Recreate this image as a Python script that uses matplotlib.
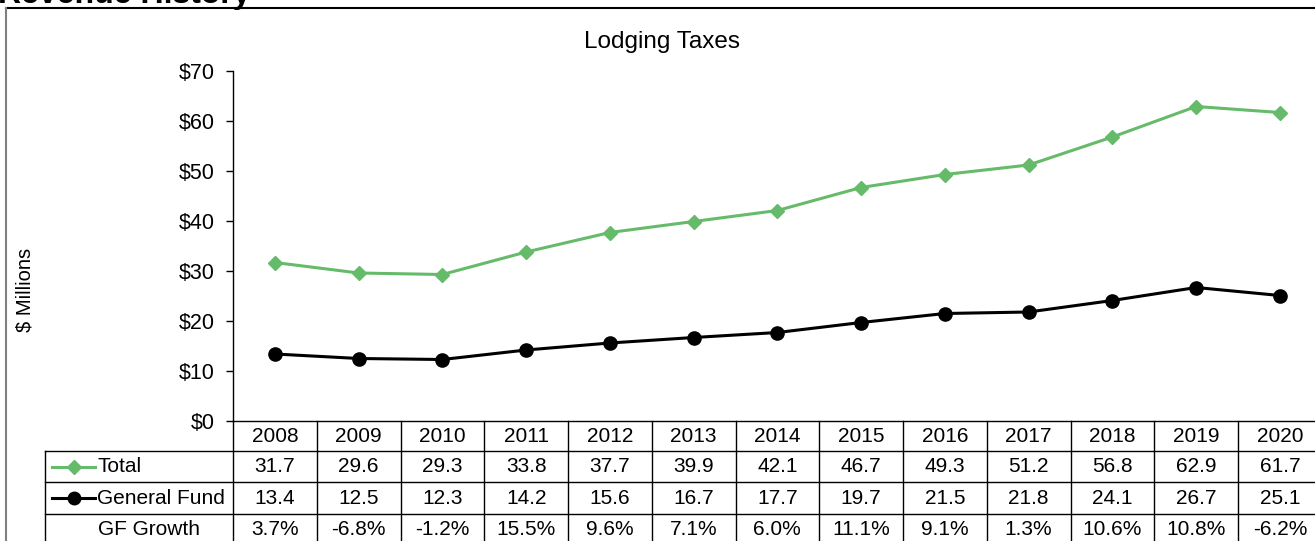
import matplotlib
matplotlib.use("Agg")
import matplotlib.pyplot as plt
from matplotlib.lines import Line2D

plt.rcParams['font.family'] = ['Liberation Sans', 'DejaVu Sans']

years = ["2008", "2009", "2010", "2011", "2012", "2013", "2014", "2015",
         "2016", "2017", "2018", "2019", "2020"]
total = [31.7, 29.6, 29.3, 33.8, 37.7, 39.9, 42.1, 46.7, 49.3, 51.2, 56.8, 62.9, 61.7]
general_fund = [13.4, 12.5, 12.3, 14.2, 15.6, 16.7, 17.7, 19.7, 21.5, 21.8, 24.1, 26.7, 25.1]
gf_growth = ["3.7%", "-6.8%", "-1.2%", "15.5%", "9.6%", "7.1%", "6.0%", "11.1%",
             "9.1%", "1.3%", "10.6%", "10.8%", "-6.2%"]
yticks = [0, 10, 20, 30, 40, 50, 60, 70]

W, H = 1315, 541
fig = plt.figure(figsize=(W / 100, H / 100), dpi=100)

GREEN = "#66BB6A"
n = len(years)
colw = 83.75
ax_left, ax_right = 233, 233 + colw * n
ax_top, ax_bot = 71, 421

ax = fig.add_axes([ax_left / W, (H - ax_bot) / H, (ax_right - ax_left) / W, (ax_bot - ax_top) / H])
x = list(range(n))
ax.plot(x, total, color=GREEN, lw=2.2, marker='D', ms=7.5, mec=GREEN, mfc=GREEN, clip_on=False)
ax.plot(x, general_fund, color='black', lw=2.2, marker='o', ms=9.5, clip_on=False)
ax.set_xlim(-0.5, n - 0.5)
ax.set_ylim(0, 70)
ax.set_yticks(yticks)
ax.set_yticklabels([f"${v}" for v in yticks], fontsize=15.5)
ax.set_xticks([])
ax.tick_params(axis='y', direction='out', length=5, width=1, pad=8)
for s in ['top', 'right']:
    ax.spines[s].set_visible(False)
ax.spines['left'].set_linewidth(1)
ax.spines['bottom'].set_linewidth(1)

fig.text(662 / W, 1 - 42 / H, "Lodging Taxes", ha='center', va='center', fontsize=17.5)
fig.text(25 / W, 1 - 290 / H, "$ Millions", rotation=90, ha='center', va='center', fontsize=14.5)
fig.text(-2 / W, 1 - 3 / H, "Revenue History", ha='left', va='baseline', fontsize=23, fontweight='bold')

# outer frame
fig.add_artist(Line2D([6 / W, 1], [1 - 8 / H, 1 - 8 / H], color='black', lw=1.5, transform=fig.transFigure))
fig.add_artist(Line2D([6 / W, 6 / W], [0, 1 - 8 / H], color='#808080', lw=1.5, transform=fig.transFigure))

# data table
tab_left = 45
tb_bottom = 545
tax = fig.add_axes([tab_left / W, (H - tb_bottom) / H, (ax_right - tab_left) / W, (tb_bottom - ax_bot) / H])
xl = -0.5 - (ax_left - tab_left) / colw
tax.set_xlim(xl, n - 0.5)
rows_y = [0, 0.97, 1.98, 3.0, 4.0]
tax.set_ylim(4.0, 0)
tax.axis('off')
lk = dict(color='black', lw=1)
for i in range(n + 1):
    tax.plot([i - 0.5, i - 0.5], [0, 4], **lk, clip_on=False)
tax.plot([xl, xl], [rows_y[1], 4], **lk, clip_on=False)
for r in rows_y[1:4]:
    tax.plot([xl, n - 0.5], [r, r], **lk, clip_on=False)

fs = 15
for i, yv in enumerate(years):
    tax.text(i, (rows_y[0] + rows_y[1]) / 2, yv, ha='center', va='center', fontsize=fs)
    tax.text(i, (rows_y[1] + rows_y[2]) / 2, f"{total[i]:.1f}", ha='center', va='center', fontsize=fs)
    tax.text(i, (rows_y[2] + rows_y[3]) / 2, f"{general_fund[i]:.1f}", ha='center', va='center', fontsize=fs)
    tax.text(i, (rows_y[3] + rows_y[4]) / 2, gf_growth[i], ha='center', va='center', fontsize=fs)

px = lambda p: xl + (p - tab_left) / colw
ym1 = (rows_y[1] + rows_y[2]) / 2
ym2 = (rows_y[2] + rows_y[3]) / 2
ym3 = (rows_y[3] + rows_y[4]) / 2
tax.plot([px(52), px(95)], [ym1, ym1], color=GREEN, lw=2.2)
tax.plot([px(73.5)], [ym1], color=GREEN, marker='D', ms=7)
tax.plot([px(52), px(95)], [ym2, ym2], color='black', lw=2.2)
tax.plot([px(73.5)], [ym2], color='black', marker='o', ms=9)
tax.text(px(97), ym1, "Total", ha='left', va='center', fontsize=fs)
tax.text(px(97), ym2, "General Fund", ha='left', va='center', fontsize=fs)
tax.text(px(98), ym3, "GF Growth", ha='left', va='center', fontsize=fs)

fig.savefig("out.png", dpi=100)
